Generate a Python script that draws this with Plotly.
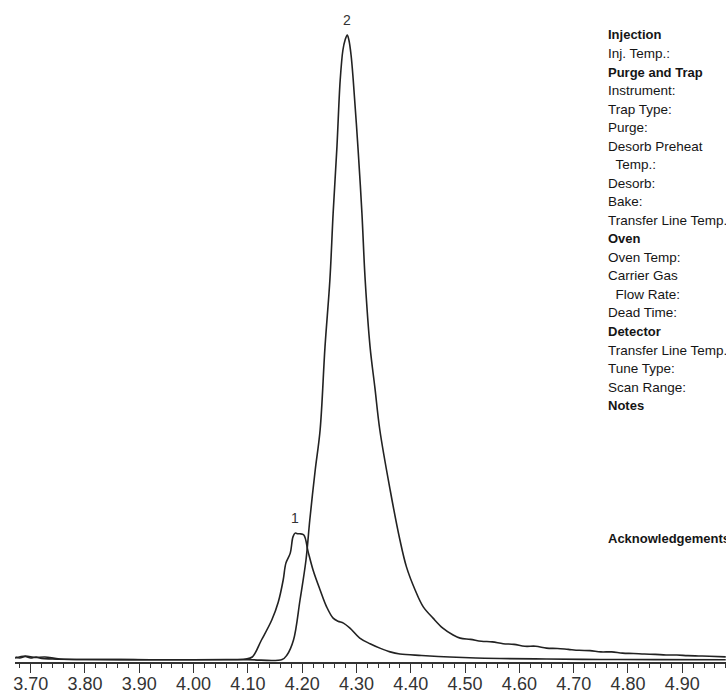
import plotly.graph_objects as go

# ---- data (retention time, min ; relative abundance, %) ----
peak1_time = [3.672, 3.680, 3.690, 3.700, 3.710, 3.720, 3.740, 3.800, 3.900, 4.000,
              4.060, 4.095, 4.108, 4.125, 4.144, 4.156, 4.165, 4.170, 4.178, 4.183,
              4.187, 4.192, 4.196, 4.203, 4.211, 4.220, 4.233, 4.245, 4.257, 4.266,
              4.276, 4.288, 4.306, 4.325, 4.343, 4.362, 4.380, 4.420, 4.472, 4.520,
              4.564, 4.650, 4.750, 4.850, 4.980]
peak1_abund = [0.48, 0.32, 0.56, 0.32, 0.48, 0.24, 0.16, 0.08, 0.05, 0.05,
               0.08, 0.16, 0.48, 3.2, 6.4, 9.28, 12.8, 15.5, 17.1, 19.7,
               20.3, 20.2, 20.2, 20.0, 17.3, 14.4, 11.2, 8.5, 6.7, 6.2,
               5.9, 5.1, 3.5, 2.6, 1.9, 1.3, 0.96, 0.72, 0.48, 0.32,
               0.24, 0.16, 0.08, 0.06, 0.05]

peak2_time = [3.671, 3.690, 3.708, 3.726, 3.754, 3.828, 3.920, 4.012, 4.100, 4.163,
              4.172, 4.184, 4.196, 4.207, 4.214, 4.224, 4.233, 4.242, 4.251, 4.257,
              4.264, 4.270, 4.275, 4.279, 4.283, 4.286, 4.290, 4.294, 4.303, 4.310,
              4.316, 4.325, 4.334, 4.343, 4.362, 4.380, 4.392, 4.408, 4.423, 4.441,
              4.459, 4.478, 4.491, 4.510, 4.530, 4.550, 4.570, 4.590, 4.610, 4.630,
              4.650, 4.670, 4.690, 4.710, 4.730, 4.750, 4.770, 4.790, 4.810, 4.830,
              4.850, 4.870, 4.890, 4.910, 4.930, 4.950, 4.980]
peak2_abund = [0.32, 0.64, 0.4, 0.48, 0.16, 0.08, 0.05, 0.05, 0.05, 0.08,
               0.8, 3.2, 9.6, 16.0, 22.4, 30.4, 36.8, 50.1, 60.8, 71.5,
               82.1, 92.8, 97.6, 99.2, 100.0, 99.2, 96.8, 92.8, 81.6, 71.5,
               60.8, 50.1, 43.5, 36.8, 27.2, 19.2, 14.9, 11.2, 8.5, 6.7,
               5.1, 4.0, 3.5, 3.3, 3.0, 2.9, 2.6, 2.5, 2.2, 2.2,
               1.9, 1.85, 1.7, 1.55, 1.5, 1.3, 1.3, 1.1, 1.05, 0.95,
               0.9, 0.8, 0.8, 0.7, 0.65, 0.6, 0.5]

x_ticks = [3.70, 3.80, 3.90, 4.00, 4.10, 4.20, 4.30, 4.40, 4.50, 4.60, 4.70, 4.80, 4.90]

peak_labels = ["1", "2"]
peak_label_time = [4.187, 4.283]
peak_label_abund = [22.7, 102.4]

panel_lines = ["Injection", "Inj. Temp.:", "Purge and Trap", "Instrument:", "Trap Type:",
               "Purge:", "Desorb Preheat", "\u00a0\u00a0Temp.:", "Desorb:", "Bake:",
               "Transfer Line Temp.:", "Oven", "Oven Temp:", "Carrier Gas",
               "\u00a0\u00a0Flow Rate:", "Dead Time:", "Detector", "Transfer Line Temp.:",
               "Tune Type:", "Scan Range:", "Notes"]
panel_bold = ["Injection", "Purge and Trap", "Oven", "Detector", "Notes"]
ack_text = "Acknowledgements"

# ---- figure ----
W, H = 726, 700
ML, MR, MT, MB = 15, 0, 0, 38
PW, PH = W - ML - MR, H - MT - MB

fig = go.Figure()
line_style = dict(color="#222222", width=1.6)
fig.add_trace(go.Scatter(x=peak1_time, y=peak1_abund, mode="lines", line=line_style,
                         line_shape="spline", hoverinfo="skip", showlegend=False))
fig.add_trace(go.Scatter(x=peak2_time, y=peak2_abund, mode="lines", line=line_style,
                         line_shape="spline", hoverinfo="skip", showlegend=False))

annotations = []
for lab, t, a in zip(peak_labels, peak_label_time, peak_label_abund):
    annotations.append(dict(x=t, y=a, xref="x", yref="y", text=lab, showarrow=False,
                            font=dict(family="Liberation Sans, Arial", size=14, color="#333333")))

panel_font = "Liberation Sans, Arial, sans-serif"
x_text_px = 606
y0_px, dy_px = 35, 18.53
for i, ln in enumerate(panel_lines):
    bold = ln in panel_bold
    txt = f"<b>{ln}</b>" if bold else ln
    ypx = y0_px + i * dy_px
    annotations.append(dict(x=(x_text_px - ML) / PW, y=1 - (ypx - MT) / PH, xref="paper", yref="paper",
                            text=txt, showarrow=False, xanchor="left", yanchor="middle",
                            font=dict(family=panel_font, size=13 if bold else 13.5, color="#151515")))
annotations.append(dict(x=(x_text_px - ML) / PW, y=1 - (538 - MT) / PH, xref="paper", yref="paper",
                        text=f"<b>{ack_text}</b>", showarrow=False, xanchor="left", yanchor="middle",
                        font=dict(family=panel_font, size=13, color="#151515")))

fig.update_layout(
    width=W, height=H,
    margin=dict(l=ML, r=MR, t=MT, b=MB),
    paper_bgcolor="white", plot_bgcolor="white",
    annotations=annotations,
    xaxis=dict(range=[3.6711, 4.9805], tickvals=x_ticks, tickformat=".2f",
               showgrid=False, zeroline=False, showline=True, linecolor="#333333", linewidth=1.5,
               ticks="outside", ticklen=9, tickwidth=1.3, tickcolor="#333333",
               ticklabelstandoff=-4,
               tickfont=dict(family="Liberation Sans, Arial", size=18, color="#333333"),
               minor=dict(dtick=0.02, tick0=3.70, ticks="outside", ticklen=4, tickwidth=1,
                          tickcolor="#333333", showgrid=False)),
    yaxis=dict(range=[-0.32, 105.6], visible=False, showgrid=False, zeroline=False),
)

fig.write_html("out.html", config={"displayModeBar": False},
               post_script="document.body.style.margin='0';document.body.style.overflow='hidden';")
